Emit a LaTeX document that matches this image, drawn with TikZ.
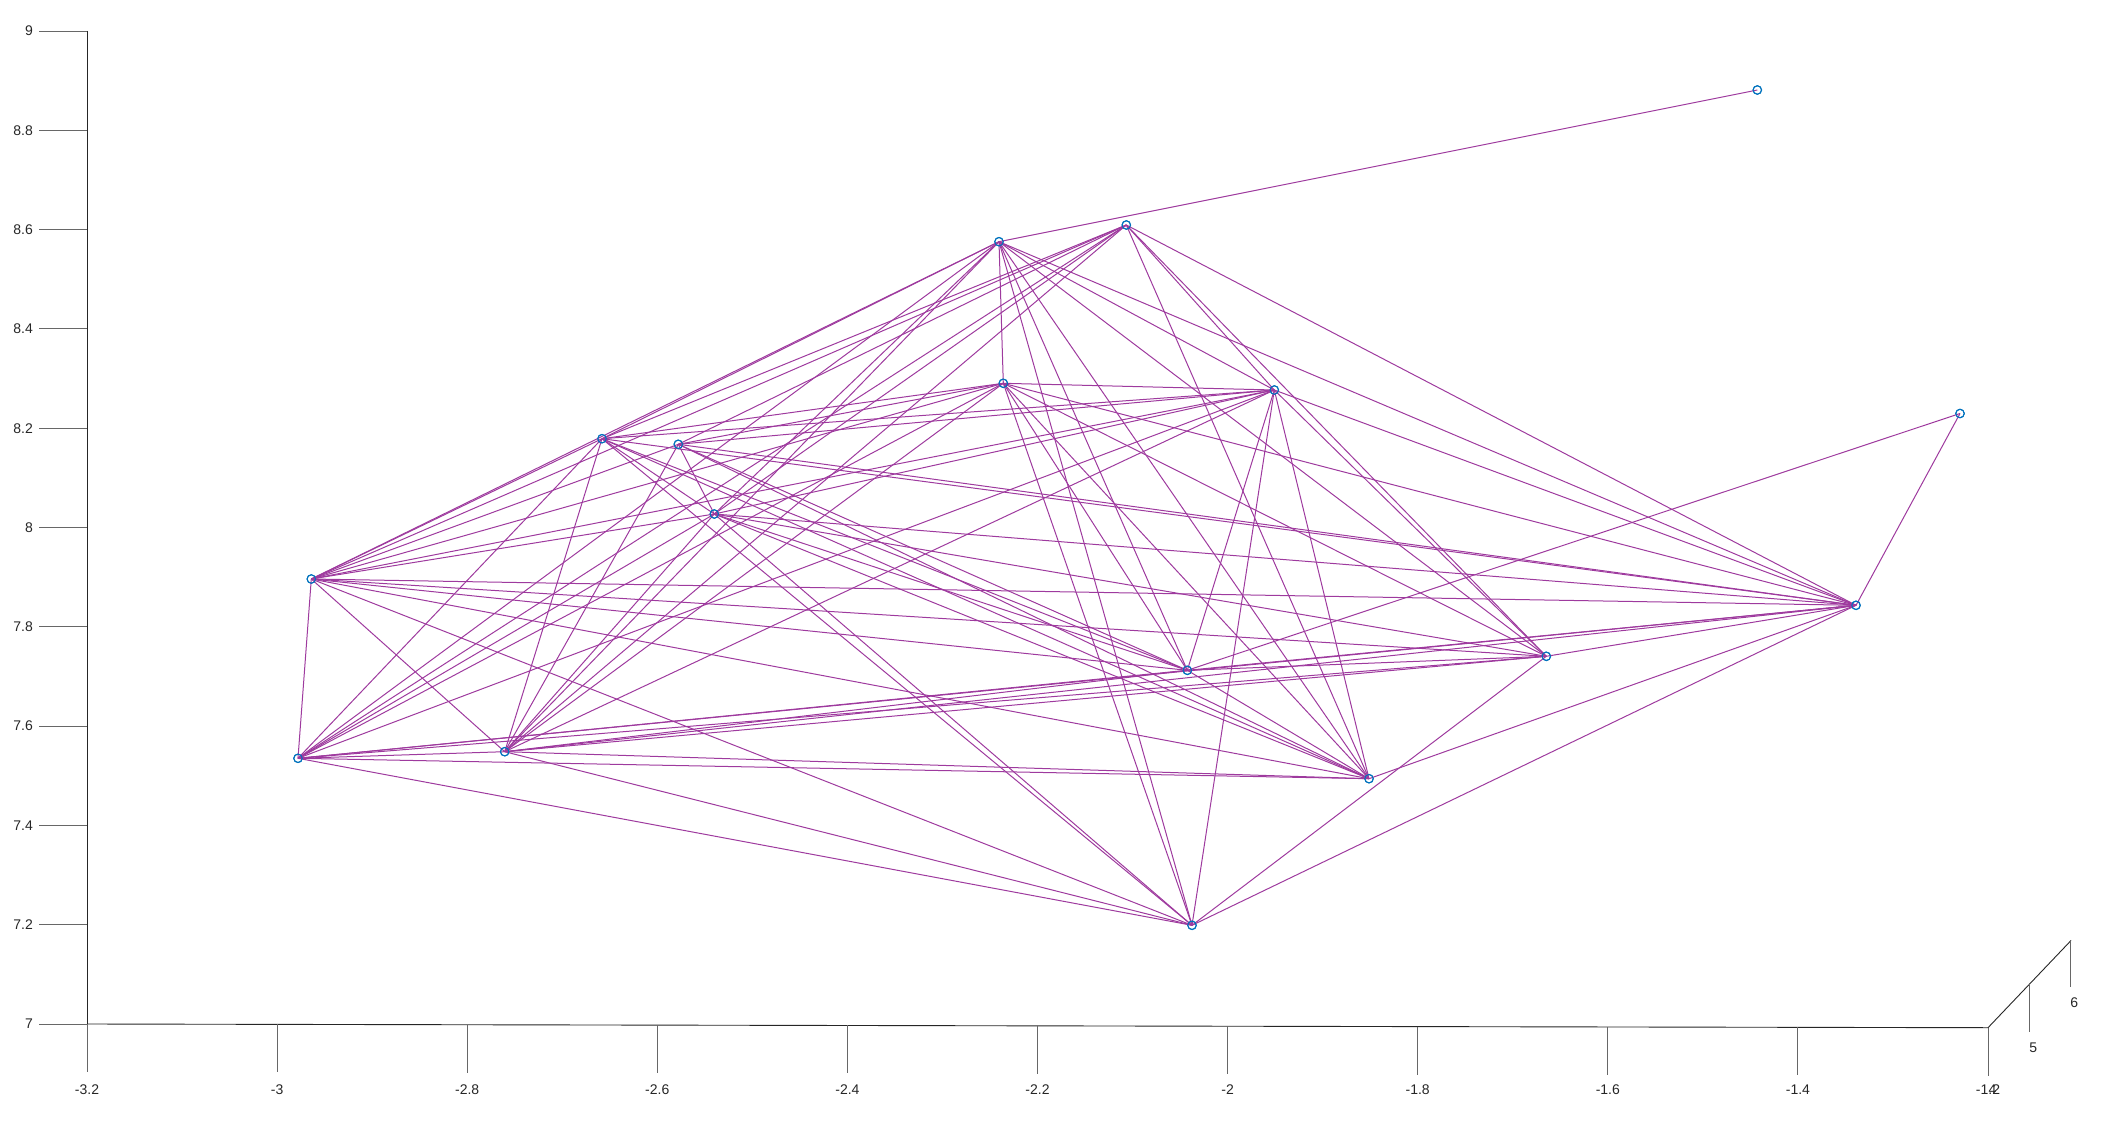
\documentclass[tikz,border=0pt]{standalone}
\usepackage{fontspec}
\setmainfont{Liberation Sans}
\definecolor{edgec}{RGB}{158,58,158}
\definecolor{nodec}{rgb}{0,0.447,0.741}
\definecolor{axc}{rgb}{0.15,0.15,0.15}
\begin{document}
\begin{tikzpicture}[x=1pt,y=-1pt,
  vtx/.style={circle,draw=nodec,line width=1pt,inner sep=0pt,minimum size=8.5pt,fill=none},
  edge/.style={draw=edgec,line width=1pt},
  axis/.style={draw=axc,line width=0.9pt},
  tick/.style={draw=axc!70,line width=0.9pt},
  lbl/.style={text=axc,font=\fontsize{14}{16}\selectfont,inner sep=0pt}]
\useasboundingbox (0,0) rectangle (2105,1124);
% axes
\draw[axis] (87,31) -- (87,1024);
\draw[axis] (87,1024) -- (1988,1027.7) -- (2071,940.5);
\foreach \t [count=\i from 0] in {9,8.8,8.6,8.4,8.2,8,7.8,7.6,7.4,7.2,7}{
  \pgfmathsetmacro{\yy}{31+\i*99.3}
  \draw[tick] (39,\yy) -- (87,\yy);
  \node[lbl,anchor=east] (yl\i) at (33,\yy) {\t};
}
\foreach \t [count=\i from 0] in {-3.2,-3,-2.8,-2.6,-2.4,-2.2,-2,-1.8,-1.6,-1.4,-1.2}{
  \pgfmathsetmacro{\xx}{87+\i*190.1}
  \pgfmathsetmacro{\yt}{1024+\i*0.37}
  \draw[tick] (\xx,\yt) -- (\xx,\yt+48);
  \node[lbl] (xl\i) at (\xx,1090) {\t};
}
\draw[tick] (2029.3,984.3) -- (2029.3,1031.7);
\draw[tick] (2070.7,940.7) -- (2070.7,987.3);
\node[lbl] (z4) at (1992.5,1090) {4};
\node[lbl] (z5) at (2033.3,1047.3) {5};
\node[lbl] (z6) at (2074.3,1002.3) {6};
% vertices
\node[vtx] (A) at (1757.3,90) {};
\node[vtx] (B) at (999,241.7) {};
\node[vtx] (C) at (1126.3,225) {};
\node[vtx] (D) at (1003.3,383.3) {};
\node[vtx] (E) at (1274.3,390) {};
\node[vtx] (F) at (1960,413.5) {};
\node[vtx] (G) at (602,438.7) {};
\node[vtx] (H) at (678.3,444.3) {};
\node[vtx] (I) at (714.3,514) {};
\node[vtx] (J) at (311.3,579) {};
\node[vtx] (K) at (1856,605.3) {};
\node[vtx] (L) at (1187.3,670.3) {};
\node[vtx] (M) at (1546.3,656.3) {};
\node[vtx] (N) at (298,758.3) {};
\node[vtx] (O) at (504.7,751.7) {};
\node[vtx] (P) at (1369,778.7) {};
\node[vtx] (Q) at (1192,925.3) {};
% edges
\foreach \a/\b in {A/B,
  B/D,B/E,B/G,B/I,B/J,B/K,B/L,B/M,B/N,B/O,B/P,B/Q,
  C/E,C/G,C/H,C/I,C/J,C/K,C/M,C/N,C/O,C/P,
  D/E,D/G,D/H,D/J,D/K,D/L,D/M,D/N,D/O,D/P,D/Q,
  E/G,E/H,E/I,E/J,E/K,E/L,E/M,E/N,E/O,E/P,E/Q,
  F/K,F/L,
  G/I,G/J,G/K,G/L,G/N,G/O,G/P,G/Q,
  H/I,H/J,H/K,H/L,H/O,H/P,
  I/J,I/K,I/L,I/M,I/N,I/O,I/P,I/Q,
  J/K,J/L,J/M,J/N,J/O,J/P,J/Q,
  K/L,K/M,K/N,K/O,K/P,K/Q,
  L/M,L/N,L/O,L/P,
  M/N,M/O,M/Q,
  N/O,N/P,N/Q,
  O/P,O/Q}{
  \draw[edge] (\a.center) -- (\b.center);
}
\foreach \n in {A,B,C,D,E,F,G,H,I,J,K,L,M,N,O,P,Q}{
  \node[vtx] at (\n.center) {};
}
\end{tikzpicture}
\end{document}
